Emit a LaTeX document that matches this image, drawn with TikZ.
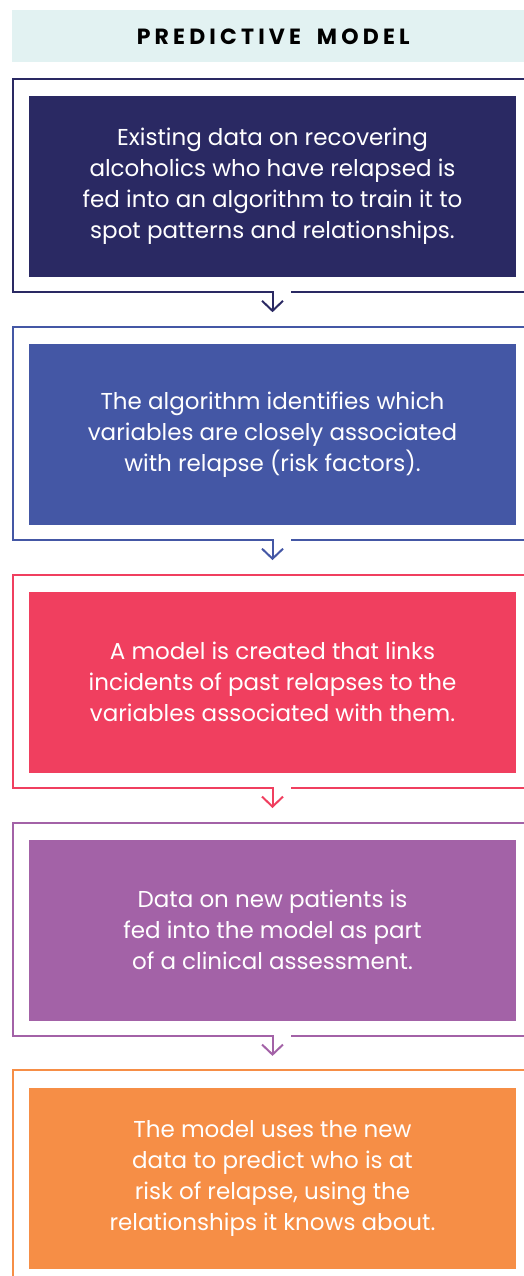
\documentclass[tikz,border=0pt]{standalone}
\usepackage{fontspec}
\setmainfont{Poppins}
\newfontfamily\titlefont[LetterSpace=19,WordSpace=1.8]{Poppins}
\usetikzlibrary{arrows.meta,positioning}

\definecolor{titlecyan}{HTML}{E2F2F2}
\definecolor{stepnavy}{HTML}{2A2963}
\definecolor{stepblue}{HTML}{4457A5}
\definecolor{stepred}{HTML}{F03F5F}
\definecolor{steppurple}{HTML}{A362A7}
\definecolor{steporange}{HTML}{F68E46}

\tikzset{
    stepbox/.style={fill=#1, text=white, align=center, inner sep=0pt,
        minimum width=487pt, minimum height=181pt,
        font=\fontsize{23}{31}\selectfont},
    framebox/.style={draw=#1, line width=2pt},
}

\begin{document}
\begin{tikzpicture}[x=1pt, y=-1pt]
    \useasboundingbox (0,0) rectangle (524,1276);
    \clip (0,0) rectangle (524,1276);

    % Title band
    \node[fill=titlecyan, anchor=west, minimum width=522pt, minimum height=52pt,
        font=\titlefont\bfseries\fontsize{22}{24}\selectfont] (title) at (12,36.5) {PREDICTIVE MODEL};

    % Steps
    \node[stepbox=stepnavy] (step1) at (272.5,186.5)
        {Existing data on recovering\\alcoholics who have relapsed is\\fed into an algorithm to train it to\\spot patterns and relationships.};
    \node[stepbox=stepblue, below=66.5pt of step1] (step2)
        {The algorithm identifies which\\variables are closely associated\\with relapse (risk factors).};
    \node[stepbox=stepred, below=66.5pt of step2] (step3)
        {A model is created that links\\incidents of past relapses to the\\variables associated with them.};
    \node[stepbox=steppurple, below=66.5pt of step3] (step4)
        {Data on new patients is\\fed into the model as part\\of a clinical assessment.};
    \node[stepbox=steporange, below=66.5pt of step4] (step5)
        {The model uses the new\\data to predict who is at\\risk of relapse, using the\\relationships it knows about.};

    % Frames with arrow down to the next step
    \foreach \i/\col in {1/stepnavy,2/stepblue,3/stepred,4/steppurple} {
        \draw[framebox=\col, -{Straight Barb[length=10pt,width=21pt]}]
            ([xshift=18.5pt,yshift=-15pt]step\i.south) -- ++(260,0)
            |- ([yshift=17pt]step\i.north)
            -| ([xshift=-16pt,yshift=-15pt]step\i.south west)
            -- ([yshift=-15pt]step\i.south) -- ++(0,20) coordinate (tip\i);
    }
    % Last frame runs off the page
    \draw[framebox=steporange] ([xshift=-16pt,yshift=-30pt]step5.south west)
        |- ([xshift=30pt,yshift=17pt]step5.north east);
\end{tikzpicture}
\end{document}
